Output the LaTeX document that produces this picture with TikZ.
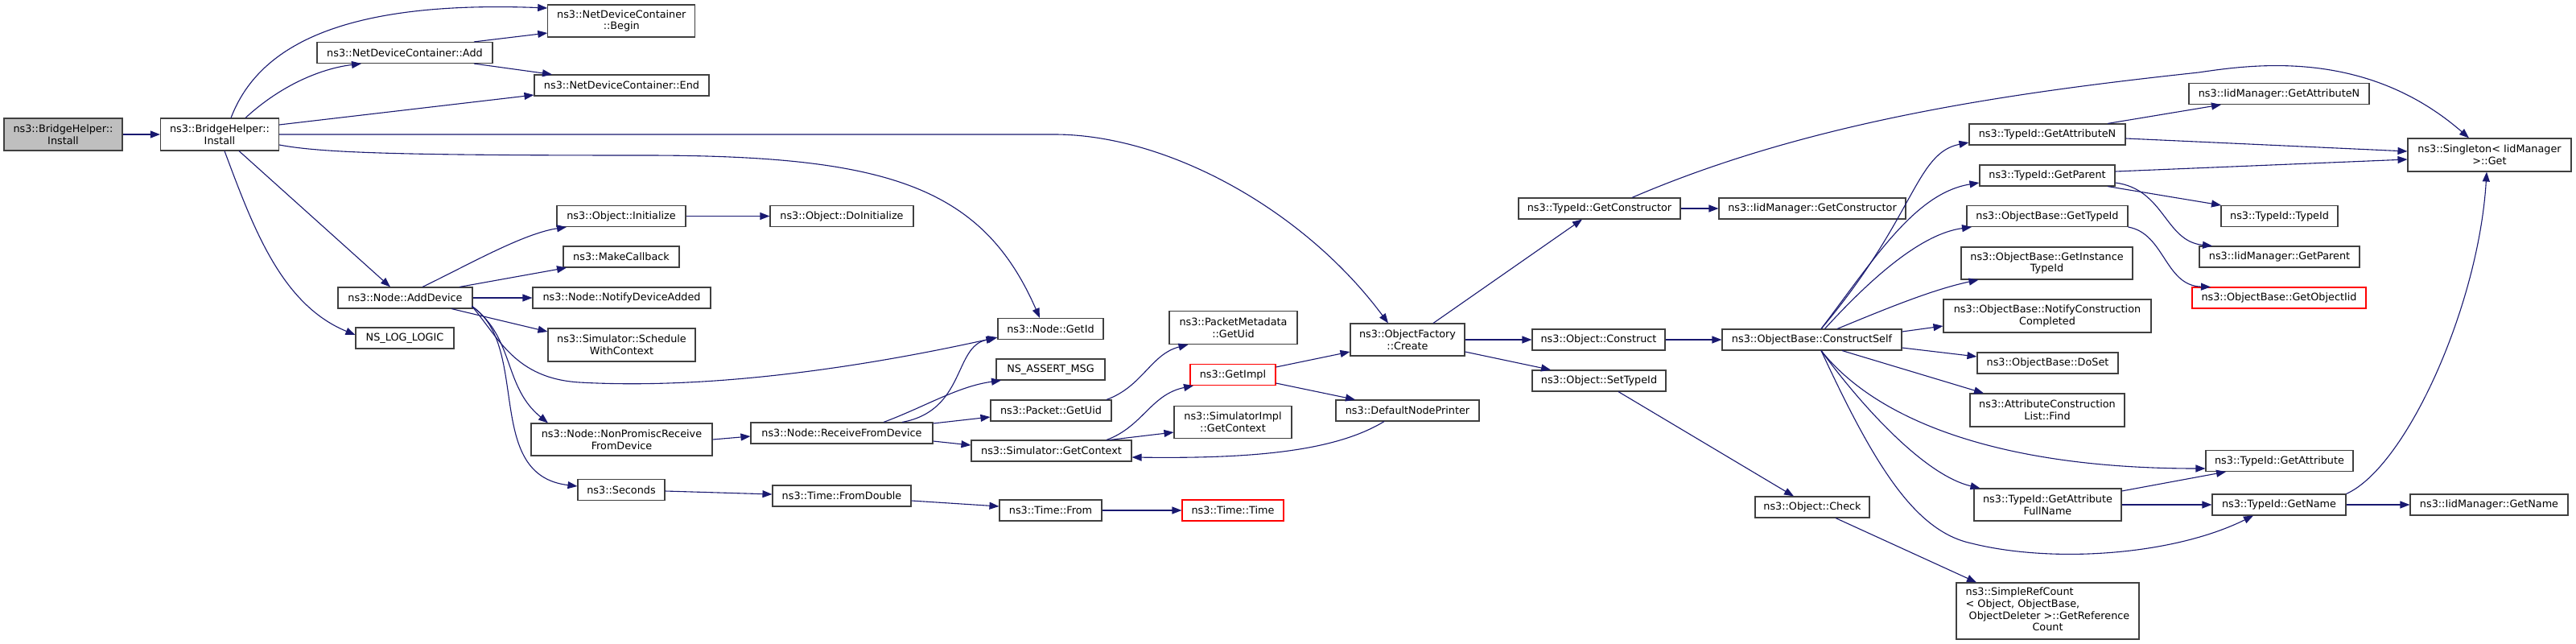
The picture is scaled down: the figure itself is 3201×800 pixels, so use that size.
\documentclass[tikz,border=0pt]{standalone}
\usepackage{fontspec}
\setmainfont{DejaVu Sans}
\usetikzlibrary{arrows.meta,calc}
\definecolor{edgec}{HTML}{191970}
\definecolor{nodeb}{HTML}{404040}
\definecolor{rootf}{HTML}{BFBFBF}
\newcommand\fnt{\fontsize{12.8}{14.7}\selectfont}
\tikzset{
  fn/.style={draw=nodeb, fill=white, line width=1.1pt, inner sep=0pt, align=center, font=\fnt, text=black},
  rootn/.style={fn, fill=rootf},
  redn/.style={fn, draw=red},
  wh/.style 2 args={minimum width=#1pt, minimum height=#2pt},
  ed/.style={draw=edgec, line width=1.1pt, -{Triangle[length=12pt,width=9pt]}}
}
\begin{document}
\begin{tikzpicture}[x=1pt,y=-1pt]
\useasboundingbox[fill=white] (0,0) rectangle (3201,800);
% nodes
\node[rootn,wh={147}{40}] (bhroot) at (78.5,167) {ns3::BridgeHelper::\\Install};
\node[fn,wh={147}{40}] (bh) at (273,167) {ns3::BridgeHelper::\\Install};
\node[fn,wh={183}{40}] (begin) at (772.3,26) {ns3::NetDeviceContainer\\::Begin};
\node[fn,wh={218}{26}] (add) at (503,65.5) {ns3::NetDeviceContainer::Add};
\node[fn,wh={217}{26}] (ndcend) at (772.5,106) {ns3::NetDeviceContainer::End};
\node[fn,wh={160}{26}] (init) at (772,268.5) {ns3::Object::Initialize};
\node[fn,wh={178}{26}] (doinit) at (1046,268.5) {ns3::Object::DoInitialize};
\node[fn,wh={144}{26}] (makecb) at (772,319) {ns3::MakeCallback};
\node[fn,wh={221}{26}] (notify) at (772.5,370) {ns3::Node::NotifyDeviceAdded};
\node[fn,wh={167}{26}] (adddev) at (503.5,370) {ns3::Node::AddDevice};
\node[fn,wh={122}{26}] (nslog) at (503,420) {NS\_LOG\_LOGIC};
\node[fn,wh={183}{41}] (sched) at (772.5,428.5) {ns3::Simulator::Schedule\\WithContext};
\node[fn,wh={225}{40}] (nonprom) at (772.5,546) {ns3::Node::NonPromiscReceive\\FromDevice};
\node[fn,wh={108}{26}] (seconds) at (772,608.5) {ns3::Seconds};
\node[fn,wh={131}{26}] (getid) at (1305.5,408.5) {ns3::Node::GetId};
\node[fn,wh={135}{26}] (assert) at (1305.5,459) {NS\_ASSERT\_MSG};
\node[fn,wh={150}{26}] (pgetuid) at (1306,510) {ns3::Packet::GetUid};
\node[fn,wh={226}{26}] (recv) at (1046,538) {ns3::Node::ReceiveFromDevice};
\node[fn,wh={199}{26}] (simctx) at (1306.5,560) {ns3::Simulator::GetContext};
\node[fn,wh={172}{26}] (fromdbl) at (1046,616) {ns3::Time::FromDouble};
\node[fn,wh={127}{26}] (tfrom) at (1305.5,634) {ns3::Time::From};
\node[redn,wh={126}{26}] (ttime) at (1532,634) {ns3::Time::Time};
\node[fn,wh={159}{41}] (pmeta) at (1532.5,407) {ns3::PacketMetadata\\::GetUid};
\node[redn,wh={106}{26}] (getimpl) at (1532,465.5) {ns3::GetImpl};
\node[fn,wh={146}{40}] (simimpl) at (1532,524.5) {ns3::SimulatorImpl\\::GetContext};
\node[fn,wh={142}{40}] (create) at (1749,422) {ns3::ObjectFactory\\::Create};
\node[fn,wh={165}{26}] (construct) at (1986.5,422) {ns3::Object::Construct};
\node[fn,wh={223}{26}] (cself) at (2251.5,422) {ns3::ObjectBase::ConstructSelf};
\node[fn,wh={166}{26}] (settid) at (1987,473) {ns3::Object::SetTypeId};
\node[fn,wh={178}{26}] (defprint) at (1749,510) {ns3::DefaultNodePrinter};
\node[fn,wh={142}{26}] (check) at (2252,630) {ns3::Object::Check};
\node[fn,wh={201}{26}] (getctor) at (1987.5,259) {ns3::TypeId::GetConstructor};
\node[fn,wh={232}{26}] (iidctor) at (2252,259) {ns3::IidManager::GetConstructor};
\node[fn,wh={194}{26}] (getattrn) at (2544,167) {ns3::TypeId::GetAttributeN};
\node[fn,wh={224}{26}] (iidattrn) at (2832,116.5) {ns3::IidManager::GetAttributeN};
\node[fn,wh={203}{41}] (single) at (3093.5,192.5) {ns3::Singleton< IidManager\\>::Get};
\node[fn,wh={168}{26}] (getparent) at (2544,218) {ns3::TypeId::GetParent};
\node[fn,wh={145}{26}] (typeid) at (2832.5,268.5) {ns3::TypeId::TypeId};
\node[fn,wh={199}{26}] (iidparent) at (2832.5,319) {ns3::IidManager::GetParent};
\node[fn,wh={200}{26}] (obgettid) at (2544,268.5) {ns3::ObjectBase::GetTypeId};
\node[fn,wh={213}{40}] (obinst) at (2543.5,327) {ns3::ObjectBase::GetInstance\\TypeId};
\node[redn,wh={216}{26}] (objiid) at (2832,370) {ns3::ObjectBase::GetObjectIid};
\node[fn,wh={258}{41}] (notifycc) at (2544,392.5) {ns3::ObjectBase::NotifyConstruction\\Completed};
\node[fn,wh={175}{26}] (doset) at (2544.5,451) {ns3::ObjectBase::DoSet};
\node[fn,wh={192}{41}] (find) at (2544,509.5) {ns3::AttributeConstruction\\List::Find};
\node[fn,wh={183}{26}] (getattr) at (2832.5,572.5) {ns3::TypeId::GetAttribute};
\node[fn,wh={183}{40}] (fullname) at (2544.5,627) {ns3::TypeId::GetAttribute\\FullName};
\node[fn,wh={166}{26}] (getname) at (2832,627) {ns3::TypeId::GetName};
\node[fn,wh={196}{26}] (iidname) at (3093,627) {ns3::IidManager::GetName};
\node[fn,wh={227}{70}] (simpleref) at (2544.5,759) {\begin{tabular}{@{}l@{}}ns3::SimpleRefCount\\< Object, ObjectBase,\\\hspace{4pt}ObjectDeleter >::GetReference\\\multicolumn{1}{@{}c@{}}{Count}\end{tabular}};
% edges
\draw[ed] (bhroot.east) -- (bh.west);
\draw[ed] ($(bh.north)+(14,0)$) .. controls (320,60) and (420,0) .. ($(begin.west)+(0,-16)$);
\draw[ed] ($(bh.north)+(32,0)$) .. controls (350,105) and (400,85) .. ($(add.south)+(-54,0)$);
\draw[ed] ($(bh.east)+(0,-12)$) -- ($(ndcend.west)+(0,12)$);
\draw[ed] (bh.east) -- (1310,167) .. controls (1450,167) and (1620,260) .. ($(create.north)+(-24,0)$);
\draw[ed] ($(bh.east)+(0,13)$) .. controls (400,190) and (500,193) .. (800,193) .. controls (1100,193) and (1220,230) .. ($(getid.north)+(-13.5,0)$);
\draw[ed] ($(bh.south)+(24,0)$) -- ($(adddev.north)+(-18.5,0)$);
\draw[ed] ($(bh.south)+(6,0)$) .. controls (314,281) and (349,378) .. ($(nslog.west)+(0,-4)$);
\draw[ed] ($(add.north)+(86,0)$) -- ($(begin.west)+(0,15)$);
\draw[ed] ($(add.south)+(86,0)$) -- ($(ndcend.north)+(-86.5,0)$);
\draw[ed] ($(adddev.north)+(21.5,0)$) .. controls (580,330) and (650,290) .. ($(init.south)+(-68,0)$);
\draw[ed] ($(adddev.north)+(67.5,0)$) -- ($(makecb.south)+(-68,0)$);
\draw[ed] (adddev.east) -- (notify.west);
\draw[ed] ($(adddev.south)+(57.5,0)$) -- ($(sched.west)+(0,-16.5)$);
\draw[ed] ($(adddev.south east)+(-1,-3)$) .. controls (620,420) and (640,470) .. (720,475) .. controls (900,485) and (1100,450) .. ($(getid.south west)+(0,-3)$);
\draw[ed] ($(adddev.south east)+(-1,-3)$) .. controls (640,420) and (625,480) .. ($(nonprom.north)+(-91.5,0)$);
\draw[ed] ($(adddev.south east)+(-1,-3)$) .. controls (660,430) and (600,590) .. ($(seconds.west)+(0,-4.5)$);
\draw[ed] (init.east) -- (doinit.west);
\draw[ed] (nonprom.east) -- ($(recv.west)+(0,4)$);
\draw[ed] ($(recv.north)+(75,0)$) .. controls (1200,510) and (1185,430) .. ($(getid.south west)+(-2,-2)$);
\draw[ed] ($(recv.north)+(52,0)$) .. controls (1150,505) and (1190,480) .. ($(assert.south)+(-61.5,0)$);
\draw[ed] ($(recv.east)+(0,-12)$) -- ($(pgetuid.west)+(0,8)$);
\draw[ed] ($(recv.east)+(0,10)$) -- ($(simctx.west)+(0,-7)$);
\draw[ed] ($(seconds.east)+(0,1.5)$) -- ($(fromdbl.west)+(0,-2)$);
\draw[ed] ($(fromdbl.east)+(0,6)$) -- ($(tfrom.west)+(0,-5)$);
\draw[ed] (tfrom.east) -- (ttime.west);
\draw[ed] ($(pgetuid.north)+(69,0)$) .. controls (1420,480) and (1430,440) .. ($(pmeta.south)+(-56,0)$);
\draw[ed] ($(simctx.north)+(68.5,0)$) .. controls (1420,530) and (1430,490) .. ($(getimpl.south)+(-49,0)$);
\draw[ed] ($(simctx.north)+(72.5,0)$) -- ($(simimpl.west)+(0,12.5)$);
\draw[ed] ($(getimpl.east)+(0,-9.5)$) -- ($(create.west)+(0,15)$);
\draw[ed] ($(getimpl.east)+(0,10.5)$) -- ($(defprint.north)+(-65,0)$);
\draw[ed] ($(defprint.south)+(-29,0)$) .. controls (1660,560) and (1560,570) .. ($(simctx.east)+(0,8)$);
\draw[ed] ($(create.north)+(32,0)$) -- ($(getctor.south)+(-21.5,0)$);
\draw[ed] (create.east) -- (construct.west);
\draw[ed] ($(create.east)+(0,15)$) -- ($(settid.north)+(-60,0)$);
\draw[ed] (construct.east) -- (cself.west);
\draw[ed] ($(settid.south)+(24,0)$) -- ($(check.north)+(-23,0)$);
\draw[ed] ($(check.south)+(29,0)$) -- ($(simpleref.north)+(-88.5,0)$);
\draw[ed] (getctor.east) -- (iidctor.west);
\draw[ed] ($(getctor.north)+(40.5,0)$) .. controls (2250,150) and (2500,115) .. (2732,90) .. controls (2800,80) and (2940,60) .. ($(single.north)+(-25.5,0)$);
\draw[ed] ($(getattrn.north)+(75,0)$) -- ($(iidattrn.south)+(-72,0)$);
\draw[ed] ($(getattrn.east)+(0,5)$) -- ($(single.west)+(0,-4.5)$);
\draw[ed] ($(getparent.east)+(0,-5)$) -- ($(single.west)+(0,5.5)$);
\draw[ed] ($(getparent.south)+(75,0)$) -- ($(typeid.north)+(-72.5,0)$);
\draw[ed] ($(getparent.east)+(0,9)$) .. controls (2690,235) and (2690,300) .. ($(iidparent.north)+(-83.5,0)$);
\draw[ed] (obgettid.south east) .. controls (2690,290) and (2690,355) .. ($(objiid.north)+(-85,0)$);
\draw[ed] (getname.north east) .. controls (2990,580) and (3080,380) .. ($(single.south)+(-3.5,0)$);
\draw[ed] (getname.east) -- (iidname.west);
\draw[ed] ($(fullname.east)+(0,-17)$) -- ($(getattr.south)+(-66.5,0)$);
\draw[ed] (fullname.east) -- (getname.west);
\draw[ed] ($(cself.north)+(11.5,0)$) .. controls (2380,270) and (2380,190) .. ($(getattrn.west)+(0,10)$);
\draw[ed] ($(cself.north)+(11.5,0)$) .. controls (2330,320) and (2380,240) .. ($(getparent.west)+(0,9)$);
\draw[ed] ($(cself.north)+(16,0)$) .. controls (2330,340) and (2390,290) .. ($(obgettid.south)+(-94,0)$);
\draw[ed] ($(cself.north)+(31.5,0)$) .. controls (2340,385) and (2400,360) .. ($(obinst.south)+(-85,0)$);
\draw[ed] ($(cself.east)+(0,-10)$) -- ($(notifycc.west)+(0,12.5)$);
\draw[ed] ($(cself.east)+(0,10)$) -- ($(doset.west)+(0,-8)$);
\draw[ed] ($(cself.south)+(37.5,0)$) -- ($(find.north)+(-79,0)$);
\draw[ed] ($(cself.south)+(11.5,0)$) .. controls (2330,520) and (2480,582) .. ($(getattr.west)+(0,9.5)$);
\draw[ed] ($(cself.south)+(11.5,0)$) .. controls (2310,500) and (2390,590) .. ($(fullname.north)+(-84,0)$);
\draw[ed] ($(cself.south)+(11.5,0)$) .. controls (2330,580) and (2380,660) .. (2450,675) .. controls (2550,700) and (2700,690) .. ($(getname.south)+(-32,0)$);
\end{tikzpicture}
\end{document}
